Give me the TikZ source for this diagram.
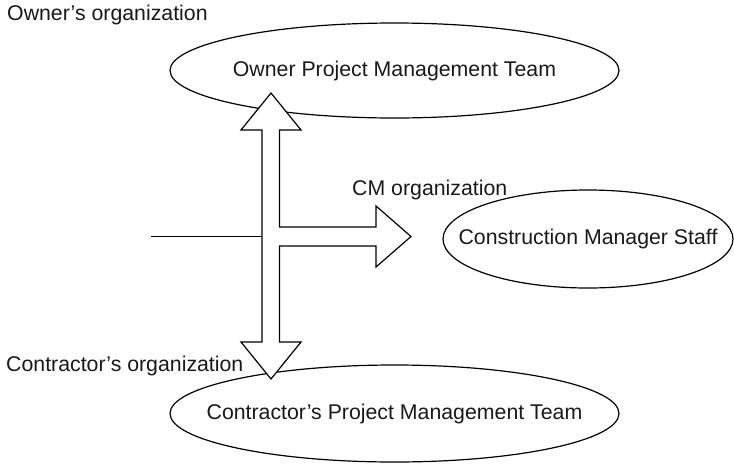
\documentclass[tikz,border=0pt]{standalone}
\usepackage{fontspec}
\setmainfont{Liberation Sans}
\usetikzlibrary{shapes.geometric}
\begin{document}
\begin{tikzpicture}[x=1pt,y=-1pt,
  txt/.style={font=\fontsize{21.3}{25}\selectfont, text=black!90},
  ell/.style={draw, ellipse, line width=1.2pt, inner sep=0pt},
  lbl/.style={txt, inner sep=0pt, anchor=base west},
  bigarrow/.style={draw, fill=white, line width=1.2pt, line join=miter},
  thin/.style={draw, line width=0.8pt}]
\useasboundingbox (0,0) rectangle (734,464);
% ellipses
\node[ell, minimum width=449pt, minimum height=95pt,
  label={[txt]center:Owner Project Management Team}] (own) at (394.5,70.5) {};
\node[ell, minimum width=290pt, minimum height=98pt,
  label={[txt]center:Construction Manager Staff}] (cm) at (588,239) {};
\node[ell, minimum width=449pt, minimum height=97pt,
  label={[txt]center:Contractor’s Project Management Team}] (con) at (394.5,413.5) {};
% organization labels
\node[lbl] (lown) at (7,20) {Owner’s organization};
\node[lbl] (lcm) at (352,195) {CM organization};
\node[lbl] (lcon) at (6,371) {Contractor’s organization};
% input line
\coordinate (lin) at (151,236.5);
\coordinate (shaft) at (262,236.5);
\draw[thin] (lin) -- (shaft);
% three-way block arrow
\coordinate (toptip) at (271,93);
\coordinate (cmtip) at (411,236.5);
\coordinate (bottip) at (271,379);
\draw[bigarrow] (toptip) -- (301,130) -- (279.5,130) -- (279.5,227) -- (376,227)
  -- (376,206) -- (cmtip) -- (376,267) -- (376,246) -- (279.5,246)
  -- (279.5,342) -- (301,342) -- (bottip) -- (241,342) -- (262,342)
  -- (262,130) -- (241,130) -- cycle;
\end{tikzpicture}
\end{document}
